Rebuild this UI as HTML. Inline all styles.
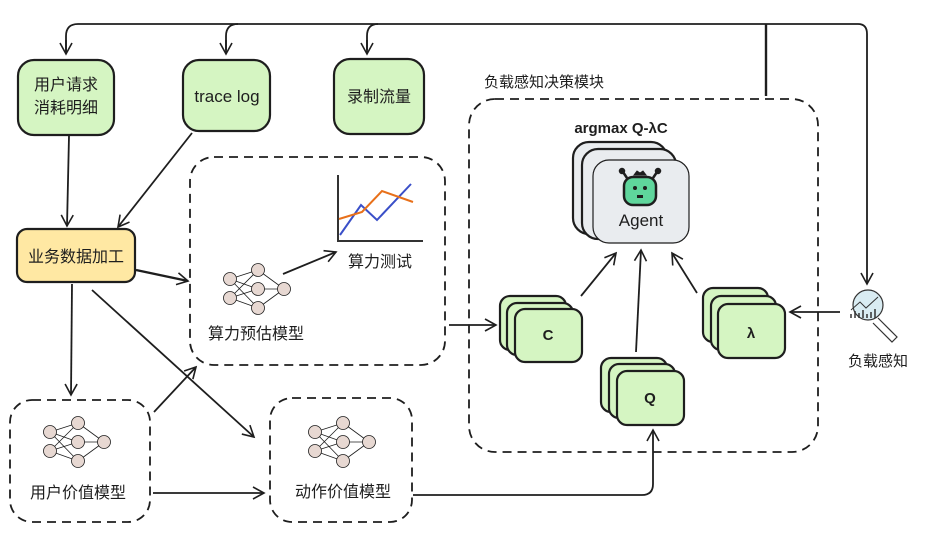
<!DOCTYPE html>
<html><head><meta charset="utf-8"><style>
html,body{margin:0;padding:0;background:#fff;}
svg{display:block;}
text{font-family:"Liberation Sans","Noto Sans CJK SC",sans-serif;fill:#1e1e1e;}
</style></head><body>
<svg width="926" height="548" viewBox="0 0 926 548" xmlns="http://www.w3.org/2000/svg">
<defs>
<marker id="ah" markerWidth="14" markerHeight="14" refX="12" refY="7" orient="auto" markerUnits="userSpaceOnUse">
<path d="M1,1 L12,7 L1,13" fill="none" stroke="#1e1e1e" stroke-width="1.6"/>
</marker>
<g id="net" stroke="#1e1e1e" stroke-width="0.8" fill="#e7d8d2">
<path d="M0,9 L28,0 M0,9 L28,19 M0,9 L28,38 M0,28 L28,0 M0,28 L28,19 M0,28 L28,38 M28,0 L54,19 M28,19 L54,19 M28,38 L54,19" fill="none"/>
<circle cx="0" cy="9" r="6.5"/><circle cx="0" cy="28" r="6.5"/>
<circle cx="28" cy="0" r="6.5"/><circle cx="28" cy="19" r="6.5"/><circle cx="28" cy="38" r="6.5"/>
<circle cx="54" cy="19" r="6.5"/>
</g>
</defs>
<g fill="none" stroke="#1e1e1e" stroke-width="1.8">
<path d="M66,52 L66,36 Q66,24 78,24 L766,24"/>
<path d="M226,50 L226,36 Q226,24 238,24"/>
<path d="M367,50 L367,36 Q367,24 378,24"/>
<path d="M66,40 L66,54" marker-end="url(#ah)"/>
<path d="M226,40 L226,54" marker-end="url(#ah)"/>
<path d="M367,40 L367,54" marker-end="url(#ah)"/>
<path d="M766,24 L766,96" stroke-width="2.4"/>
<path d="M766,24 L858,24 Q867,24 867,34 L867,284" marker-end="url(#ah)"/>
<rect x="18" y="60" width="96" height="75" rx="16" fill="#d5f5c2" stroke-width="2.2"/>
<rect x="183" y="60" width="87" height="71" rx="16" fill="#d5f5c2" stroke-width="2.2"/>
<rect x="334" y="59" width="90" height="75" rx="16" fill="#d5f5c2" stroke-width="2.2"/>
<rect x="17" y="229" width="118" height="53" rx="10" fill="#ffe8a3" stroke-width="2.2"/>
<path d="M69,136 L67,226" marker-end="url(#ah)"/>
<path d="M192,133 L118,227" marker-end="url(#ah)"/>
<path d="M136,270 L188,281" marker-end="url(#ah)" stroke-width="2.4"/>
<path d="M72,284 L71,395" marker-end="url(#ah)"/>
<path d="M92,290 L254,437" marker-end="url(#ah)"/>
<path d="M154,412 L196,367" marker-end="url(#ah)"/>
<path d="M153,493 L264,493" marker-end="url(#ah)"/>
<path d="M283,274 L336,252" marker-end="url(#ah)"/>
<path d="M413,495 L642,495 Q653,495 653,484 L653,430" marker-end="url(#ah)"/>
<path d="M449,325 L496,325" marker-end="url(#ah)"/>
<path d="M840,312 L790,312" marker-end="url(#ah)"/>
<path d="M581,296 L616,253" marker-end="url(#ah)"/>
<path d="M636,352 L641,250" marker-end="url(#ah)"/>
<path d="M697,293 L672,253" marker-end="url(#ah)"/>
<g stroke-dasharray="9 6">
<rect x="190" y="157" width="255" height="208" rx="24"/>
<rect x="469" y="99" width="349" height="353" rx="26"/>
<rect x="10" y="400" width="140" height="122" rx="22"/>
<rect x="270" y="398" width="142" height="124" rx="22"/>
</g>
<rect x="573" y="142" width="94" height="92" rx="16" fill="#e9ecef" stroke-width="2.2"/>
<rect x="582" y="149" width="94" height="90" rx="16" fill="#e9ecef" stroke-width="2.2"/>
<rect x="593" y="160" width="96" height="83" rx="16" fill="#e9ecef" stroke-width="1.2"/>
<g stroke-width="2.2">
<rect x="500" y="296" width="66" height="54" rx="10" fill="#d5f5c2"/>
<rect x="507" y="303" width="66" height="52" rx="10" fill="#d5f5c2"/>
<rect x="515" y="309" width="67" height="53" rx="10" fill="#d5f5c2"/>
<rect x="601" y="358" width="66" height="54" rx="10" fill="#d5f5c2"/>
<rect x="609" y="364" width="66" height="54" rx="10" fill="#d5f5c2"/>
<rect x="617" y="371" width="67" height="54" rx="10" fill="#d5f5c2"/>
<rect x="703" y="288" width="65" height="54" rx="10" fill="#d5f5c2"/>
<rect x="711" y="296" width="65" height="54" rx="10" fill="#d5f5c2"/>
<rect x="718" y="304" width="67" height="54" rx="10" fill="#d5f5c2"/>
</g>
</g>
<g fill="none">
<path d="M338,175 L338,241 L423,241" stroke="#333" stroke-width="2"/>
<path d="M340,235 L361,205 L377,220 L411,184" stroke="#3a4fc8" stroke-width="2"/>
<path d="M339,219 L362,212 L382,191 L413,202" stroke="#e8701a" stroke-width="2"/>
</g>
<use href="#net" x="230" y="270"/>
<use href="#net" x="50" y="423"/>
<use href="#net" x="315" y="423"/>
<g stroke="#1e1e1e" stroke-width="2.5">
<path d="M627,178 L623,172 M653,178 L657,172" fill="none"/>
<circle cx="622" cy="171" r="2" fill="#1e1e1e"/><circle cx="658" cy="171" r="2" fill="#1e1e1e"/>
<path d="M634,175 L637,171 L640,173 L643,171 L646,175 Z" fill="#1e1e1e" stroke-width="1"/>
<rect x="624" y="177" width="32" height="28" rx="9" fill="#5fd69c"/>
</g>
<circle cx="635" cy="188" r="2" fill="#1e1e1e"/><circle cx="645" cy="188" r="2" fill="#1e1e1e"/>
<rect x="637" y="195" width="6" height="3" fill="#1e1e1e"/>
<circle cx="868" cy="305" r="15" fill="#d9ecf2" stroke="#333" stroke-width="1.2"/>
<path d="M878,318 L897,337 L892,342 L873,323" fill="#fff" stroke="#333" stroke-width="1.2"/>
<path d="M851,310 L860,302 L866,308 L878,297" fill="none" stroke="#333" stroke-width="1"/>
<g stroke="#333" stroke-width="1.5"><path d="M851,318v-4M855,318v-7M859,318v-5M863,318v-8M867,318v-4M871,318v-6M875,318v-9"/></g>
<g font-size="16">
<text x="66" y="90" text-anchor="middle">用户请求</text>
<text x="66" y="113" text-anchor="middle">消耗明细</text>
<text x="227" y="102" text-anchor="middle" font-size="17">trace log</text>
<text x="379" y="102" text-anchor="middle">录制流量</text>
<text x="76" y="262" text-anchor="middle">业务数据加工</text>
<text x="380" y="267" text-anchor="middle">算力测试</text>
<text x="256" y="339" text-anchor="middle">算力预估模型</text>
<text x="78" y="498" text-anchor="middle">用户价值模型</text>
<text x="343" y="497" text-anchor="middle">动作价值模型</text>
<text x="484" y="87" font-size="15">负载感知决策模块</text>
<text x="878" y="366" text-anchor="middle" font-size="15">负载感知</text>
<text x="621" y="133" text-anchor="middle" font-size="15" font-weight="bold">argmax Q-λC</text>
<text x="641" y="226" text-anchor="middle" font-size="17">Agent</text>
<text x="548" y="340" text-anchor="middle" font-size="15" font-weight="bold">C</text>
<text x="650" y="403" text-anchor="middle" font-size="15" font-weight="bold">Q</text>
<text x="751" y="338" text-anchor="middle" font-size="15" font-weight="bold">λ</text>
</g>
</svg>
</body></html>
